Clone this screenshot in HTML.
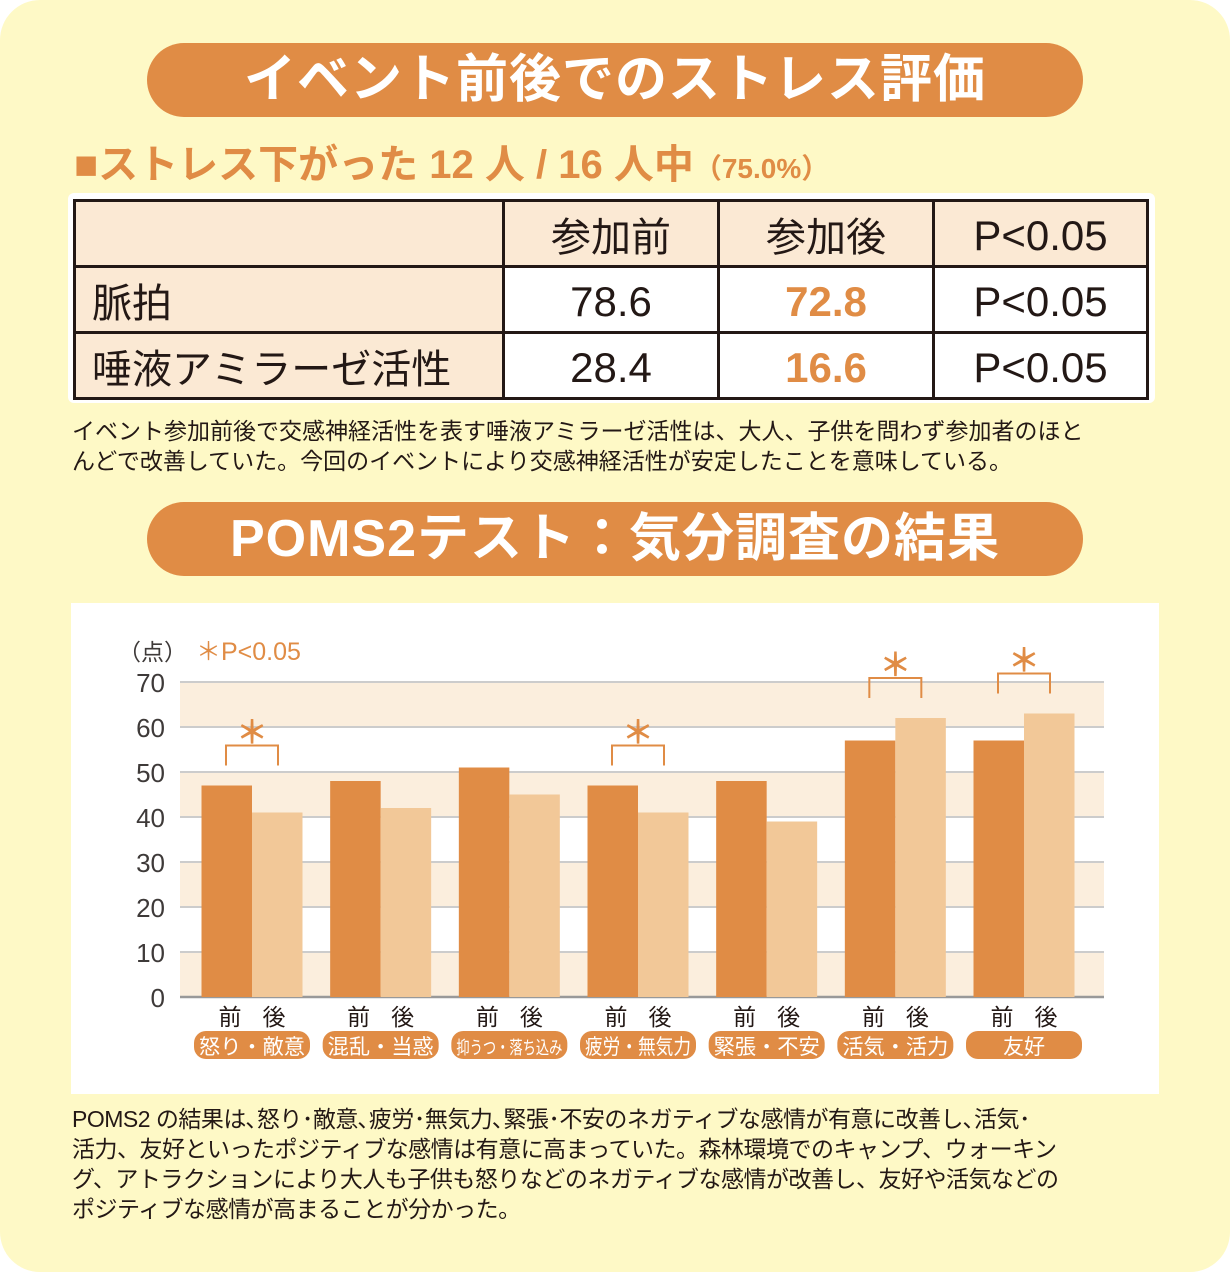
<!DOCTYPE html>
<html><head><meta charset="utf-8"><style>
*{margin:0;padding:0;box-sizing:border-box}
body{width:1230px;height:1272px;background:#fff;font-family:"Liberation Sans","Noto Sans CJK JP",sans-serif;overflow:hidden;position:relative}
.card{position:absolute;left:0;top:0;width:1230px;height:1272px;background:#fef9c6;border-radius:40px}
.pill{position:absolute;left:147px;width:936px;height:74px;background:#e08c45;border-radius:37px;color:#fff;font-weight:bold;font-size:52px;text-align:center;line-height:74px;letter-spacing:1px}
.sub{position:absolute;left:74px;top:140px;color:#e08c45;font-weight:bold;font-size:40px;line-height:50px}
.tbox{position:absolute;left:68px;top:193px;width:1087px;height:210px;background:#fff;border-radius:6px}
table{position:absolute;left:73px;top:199px;border-collapse:collapse;width:1076px;height:198px}
td{border:3px solid #231815;font-size:40px;color:#231815;text-align:center;height:66px}
td.h{background:#fbe9d4;text-align:left;padding-left:16px}
td.n{font-size:42px;padding-top:4px}
.or{color:#e08c45;font-weight:bold}
.note{position:absolute;left:72px;font-size:23px;color:#231815;line-height:30px;white-space:nowrap}
.chart{position:absolute;left:71px;top:603px;width:1088px;height:491px;background:#fff}
</style></head><body>
<div class="card"></div>
<div class="pill" style="top:43px">イベント前後でのストレス評価</div>
<div class="sub">■ストレス下がった 12 人 / 16 人中<span style="font-size:28px">（75.0%）</span></div>
<div class="tbox"></div>
<table>
<tr><td class="h" style="width:429px"></td><td style="width:215px;background:#fbe9d4">参加前</td><td style="width:215px;background:#fbe9d4">参加後</td><td class="n" style="background:#fbe9d4">P&lt;0.05</td></tr>
<tr><td class="h">脈拍</td><td class="n">78.6</td><td class="n or">72.8</td><td class="n">P&lt;0.05</td></tr>
<tr><td class="h">唾液アミラーゼ活性</td><td class="n">28.4</td><td class="n or">16.6</td><td class="n">P&lt;0.05</td></tr>
</table>
<div class="note" style="top:416px">イベント参加前後で交感神経活性を表す唾液アミラーゼ活性は、大人、子供を問わず参加者のほと<br>んどで改善していた。今回のイベントにより交感神経活性が安定したことを意味している。</div>
<div class="pill" style="top:502px">POMS2テスト：気分調査の結果</div>
<div class="chart"></div>
<svg id="svg" style="position:absolute;left:0;top:0" width="1230" height="1272"></svg>
<div class="note" style="top:1104px;letter-spacing:-0.5px">POMS2 の結果は､怒り･敵意､疲労･無気力､緊張･不安のネガティブな感情が有意に改善し､活気･<br>活力、友好といったポジティブな感情は有意に高まっていた。森林環境でのキャンプ、ウォーキン<br>グ、アトラクションにより大人も子供も怒りなどのネガティブな感情が改善し、友好や活気などの<br>ポジティブな感情が高まることが分かった。</div>
<script>
const categories=["怒り・敵意","混乱・当惑","抑うつ・落ち込み","疲労・無気力","緊張・不安","活気・活力","友好"];
const beforeVals=[47,48,51,47,48,57,57];
const afterVals=[41,42,45,41,39,62,63];
const significant=[true,false,false,true,false,true,true];
const yTicks=[0,10,20,30,40,50,60,70];
const NS="http://www.w3.org/2000/svg",svg=document.getElementById('svg');
const x0=180,x1=1104,y0=997,yTop=682,yMax=70;
const y=v=>y0-(v/yMax)*(y0-yTop);
const step=(x1-x0-152)/(categories.length-1), bw=50.5;
const cx=i=>x0+72+step*i;
function mk(t,a,txt){const e=document.createElementNS(NS,t);for(const k in a)e.setAttribute(k,a[k]);if(txt!==undefined)e.textContent=txt;svg.appendChild(e);return e;}
for(let i=0;i<yTicks.length-1;i+=2){const b=mk('rect',{x:x0,y:y(yTicks[i+1]),width:x1-x0,height:y(yTicks[i])-y(yTicks[i+1]),fill:'#fbeedd'});

}
yTicks.forEach(t=>{const l=mk('line',{x1:x0,x2:x1,y1:y(t),y2:y(t),stroke:t==0?'#999':'#ccc','stroke-width':t==0?2.5:2});


const tx=mk('text',{x:165,y:y(t)+10,'text-anchor':'end','font-size':26,fill:'#3e3a39'},t);

});
const u=mk('text',{x:118,y:660,'font-size':23,fill:'#3e3a39'},'（点）');


const lg=mk('text',{x:196,y:660,'font-size':25,fill:'#e08c45'},'＊P<0.05');


categories.forEach((c,i)=>{const m=cx(i);
const b1=mk('rect',{x:m-bw,y:y(beforeVals[i]),width:bw,height:y0-y(beforeVals[i]),fill:'#e08c45'});


const b2=mk('rect',{x:m,y:y(afterVals[i]),width:bw,height:y0-y(afterVals[i]),fill:'#f2c898'});


const t1=mk('text',{x:m-22,y:1025,'text-anchor':'middle','font-size':23,fill:'#231815'},'前');


const t2=mk('text',{x:m+22,y:1025,'text-anchor':'middle','font-size':23,fill:'#231815'},'後');


const p=mk('rect',{x:m-58,y:1031,width:116,height:28,rx:12,fill:'#e08c45'});


const attrs={x:m,y:1054,'text-anchor':'middle','font-size':c.length>6?18:21,fill:'#fff'};
if(c.length>2){attrs.textLength=106;attrs.lengthAdjust='spacingAndGlyphs';attrs.x=m-53;attrs['text-anchor']='start';}
const ct=mk('text',attrs,c);


if(significant[i]){const top=y(Math.max(beforeVals[i],afterVals[i]))-40;
const br=mk('path',{d:`M${m-26} ${top+20}V${top}H${m+26}V${top+20}`,fill:'none',stroke:'#e08c45','stroke-width':2});


const st=mk('text',{x:m,y:top-2,'text-anchor':'middle','font-size':32,'font-weight':'bold',fill:'#e08c45'},'＊');

}
});
</script>
</body></html>
